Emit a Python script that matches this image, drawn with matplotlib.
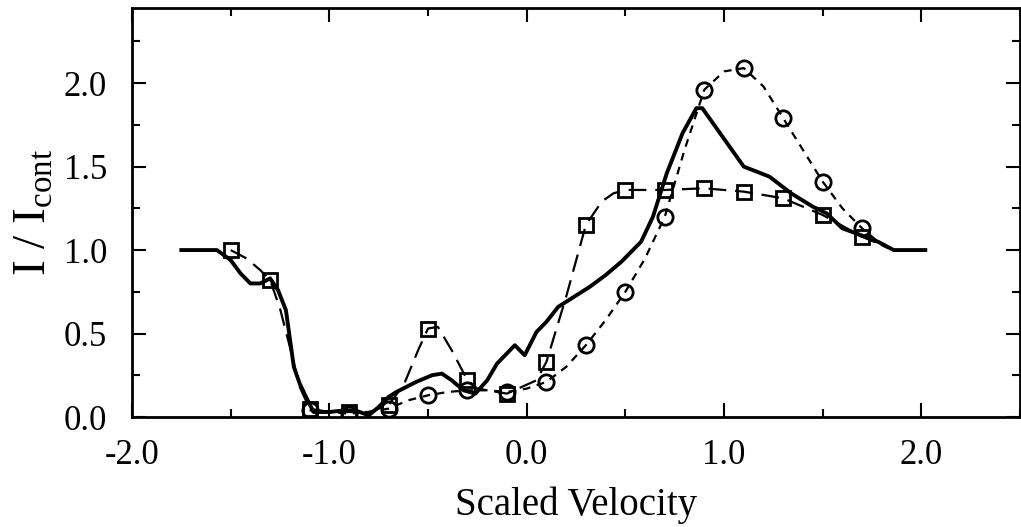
import matplotlib
matplotlib.use("Agg")
import matplotlib.pyplot as plt
from matplotlib.ticker import MultipleLocator

plt.rcParams['font.family'] = ['Liberation Serif', 'DejaVu Serif']
plt.rcParams['mathtext.fontset'] = 'custom'
plt.rcParams['mathtext.rm'] = 'Liberation Serif'

# solid profile
solid_x = [-1.75, -1.57, -1.50, -1.45, -1.40, -1.35, -1.30, -1.26, -1.22, -1.18, -1.15, -1.11,
           -1.08, -1.00, -0.92, -0.87, -0.80, -0.75, -0.70, -0.66, -0.56, -0.48, -0.43, -0.38,
           -0.32, -0.26, -0.20, -0.15, -0.06, -0.01, 0.05, 0.10, 0.16, 0.24, 0.32, 0.40, 0.48,
           0.58, 0.64, 0.71, 0.79, 0.86, 0.89, 0.98, 1.04, 1.10, 1.23, 1.34, 1.45, 1.52, 1.60,
           1.67, 1.78, 1.86, 2.02]
solid_y = [1.00, 1.00, 0.94, 0.86, 0.80, 0.80, 0.83, 0.76, 0.64, 0.30, 0.20, 0.10,
           0.03, 0.03, 0.04, 0.04, 0.01, 0.06, 0.12, 0.15, 0.21, 0.25, 0.26, 0.22,
           0.16, 0.14, 0.22, 0.32, 0.43, 0.37, 0.51, 0.57, 0.66, 0.72, 0.78, 0.85, 0.93,
           1.05, 1.20, 1.46, 1.70, 1.85, 1.85, 1.70, 1.60, 1.50, 1.44, 1.34, 1.26, 1.22, 1.13,
           1.10, 1.05, 1.00, 1.00]

# square series (long dashes)
sq_line_x = [-1.50, -1.42, -1.35, -1.30, -1.25, -1.20, -1.15, -1.10, -1.00, -0.90, -0.80, -0.70,
             -0.62, -0.55, -0.50, -0.45, -0.38, -0.30, -0.25, -0.10, 0.05, 0.10, 0.20, 0.30,
             0.38, 0.44, 0.50, 0.70, 0.90, 1.10, 1.30, 1.50, 1.70, 1.82]
sq_line_y = [1.00, 0.95, 0.88, 0.82, 0.65, 0.42, 0.18, 0.05, 0.03, 0.03, 0.03, 0.07,
             0.20, 0.40, 0.53, 0.54, 0.40, 0.22, 0.17, 0.14, 0.22, 0.33, 0.72, 1.15,
             1.29, 1.34, 1.36, 1.36, 1.37, 1.35, 1.31, 1.21, 1.08, 1.02]
sq_x = [-1.5, -1.3, -1.1, -0.9, -0.7, -0.5, -0.3, -0.1, 0.1, 0.3, 0.5, 0.7, 0.9, 1.1, 1.3, 1.5, 1.7]
sq_y = [1.00, 0.82, 0.05, 0.03, 0.07, 0.53, 0.22, 0.14, 0.33, 1.15, 1.36, 1.36, 1.37, 1.35, 1.31, 1.21, 1.08]

# circle series (short dashes)
ci_line_x = [-1.10, -1.00, -0.90, -0.80, -0.70, -0.60, -0.50, -0.40, -0.30, -0.20, -0.10, 0.00,
             0.10, 0.20, 0.30, 0.40, 0.50, 0.60, 0.70, 0.80, 0.90, 1.00, 1.10, 1.20, 1.30,
             1.40, 1.50, 1.60, 1.70, 1.80, 1.85]
ci_line_y = [0.04, 0.03, 0.02, 0.03, 0.05, 0.10, 0.13, 0.15, 0.16, 0.16, 0.15, 0.17,
             0.21, 0.30, 0.43, 0.58, 0.75, 0.95, 1.20, 1.60, 1.96, 2.07, 2.09, 1.98, 1.79,
             1.60, 1.41, 1.25, 1.13, 1.03, 1.00]
ci_x = [-1.1, -0.9, -0.7, -0.5, -0.3, -0.1, 0.1, 0.3, 0.5, 0.7, 0.9, 1.1, 1.3, 1.5, 1.7]
ci_y = [0.04, 0.02, 0.05, 0.13, 0.16, 0.15, 0.21, 0.43, 0.75, 1.20, 1.96, 2.09, 1.79, 1.41, 1.13]

x_ticks = [-2.0, -1.0, 0.0, 1.0, 2.0]
y_ticks = [0.0, 0.5, 1.0, 1.5, 2.0]

fig = plt.figure(figsize=(10.21, 5.27), dpi=100)
ax = fig.add_axes([132/1021, 1 - 417/527, (1020-132)/1021, (417-8)/527])

ax.plot(solid_x, solid_y, color='black', lw=2.8, solid_joinstyle='round')
ax.plot(sq_line_x, sq_line_y, color='black', lw=1.6, dashes=(8, 4))
ax.plot(sq_x, sq_y, ls='none', marker='s', ms=10.5, mfc='none', mec='black', mew=2.0)
ax.plot(ci_line_x, ci_line_y, color='black', lw=1.6, dashes=(3.5, 3))
ax.plot(ci_x, ci_y, ls='none', marker='o', ms=11, mfc='none', mec='black', mew=2.0)

ax.set_xlim(-2.0, 2.5)
ax.set_ylim(0.0, 2.45)
ax.set_xticks(x_ticks)
ax.set_xticklabels([f"{v:.1f}" for v in x_ticks])
ax.set_yticks(y_ticks)
ax.set_yticklabels([f"{v:.1f}" for v in y_ticks])
ax.xaxis.set_minor_locator(MultipleLocator(0.5))
ax.yaxis.set_minor_locator(MultipleLocator(0.25))
ax.tick_params(which='both', direction='in', top=True, right=True, width=1.5)
ax.tick_params(which='major', length=10, labelsize=25)
ax.tick_params(which='minor', length=6)
ax.tick_params(axis='x', pad=16)
ax.tick_params(axis='y', pad=18)
for s in ax.spines.values():
    s.set_linewidth(2)

ax.set_xlabel('Scaled Velocity', fontsize=28, labelpad=10)
ax.set_ylabel(r'I / I$_{\mathrm{cont}}$', fontsize=34, labelpad=6)

fig.savefig('out.png', dpi=100)
